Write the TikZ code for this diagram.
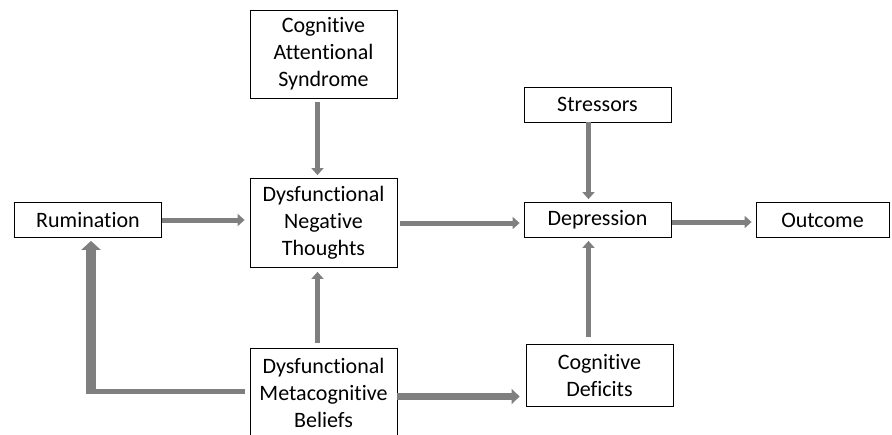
\documentclass[tikz,border=0pt]{standalone}
\usepackage{fontspec}
\setmainfont{Carlito}[Ligatures={NoCommon}]
\usetikzlibrary{arrows.meta}

\definecolor{arrgray}{HTML}{7F7F7F}

\begin{document}
\begin{tikzpicture}[
  x=1pt, y=-1pt,
  box/.style={draw, line width=0.8pt, fill=white, align=center, inner sep=0pt,
    minimum width=147pt, font=\fontsize{22}{27}\selectfont},
  arr/.style={draw=arrgray, line width=5pt, -{Triangle[length=7pt,width=12pt]}},
]
\clip (0,0) rectangle (892,434);

\node [box, minimum height=35pt] (rum) at (88,220) {Rumination};
\node [box, minimum height=88pt] (cas) at (323.5,54) {Cognitive\\Attentional\\Syndrome};
\node [box, minimum height=89pt] (dnt) at (323.5,223) {Dysfunctional\\Negative\\Thoughts};
\node [box, minimum height=35pt] (str) at (597.5,104.5) {Stressors};
\node [box, minimum height=35pt] (dep) at (597.5,220) {Depression};
\node [box, minimum height=35pt, minimum width=133pt] (out) at (822.5,220) {Outcome};
\node [box, minimum height=88pt] (dmb) at (323.5,392.5) {Dysfunctional\\Metacognitive\\Beliefs};
\node [box, minimum height=62pt] (cd) at (599.5,375.5) {Cognitive\\Deficits};
\coordinate (corner) at (91,391);

\draw [arr, shorten >=5pt] (rum.east) -- (rum.east -| dnt.west);
\draw [arr, shorten <=4pt, shorten >=3pt] ([xshift=-6pt]cas.south) -- ([xshift=-6pt]dnt.north);
\draw [arr, shorten <=3pt, shorten >=4pt] ([yshift=-3pt]dnt.east |- dep.west) -- ([yshift=-3pt]dep.west);
\draw [arr, shorten >=3pt] ([xshift=-9pt]str.south) -- ([xshift=-9pt]dep.north);
\draw [arr, shorten <=1pt, shorten >=4pt] ([yshift=-2pt]dep.east) -- ([yshift=-2pt]out.west);
\draw [arr, shorten <=7pt, shorten >=3pt] ([xshift=-11pt]cd.north) -- ([xshift=-11pt]cd.north |- dep.south);
\draw [arr, shorten <=5pt, shorten >=4pt] ([xshift=-6pt]dmb.north) -- ([xshift=-6pt]dnt.south);
\draw [arr, line width=7pt, -{Triangle[length=8pt,width=15pt]}, shorten >=6pt]
  ([yshift=-4pt]dmb.east) -- ([yshift=-4pt]dmb.east -| cd.west);

\draw [draw=arrgray, line width=5pt] ([xshift=-5pt]dmb.west |- corner) -- ([xshift=-5pt]corner);
\draw [arr, line width=10pt, -{Triangle[length=9pt,width=19pt]}, shorten >=3pt]
  ([yshift=2.5pt]corner) -- (corner |- rum.south);

\end{tikzpicture}
\end{document}
